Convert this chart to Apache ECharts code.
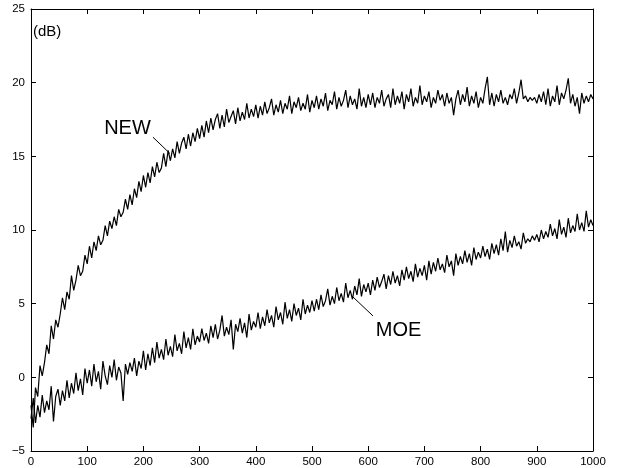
<!DOCTYPE html>
<html><head><meta charset="utf-8">
<script src="https://cdn.jsdelivr.net/npm/echarts@6/dist/echarts.min.js"></script>
<style>html,body{margin:0;padding:0;background:#fff}#c{width:619px;height:468px}</style>
</head><body><div id="c"></div>
<script>
// sample spacing along the x axis (values read every 4 samples)
const sampleStep = 4;

// NEW curve (dB), x = 0, 4, 8, ..., 1000
const newValues = [
-1.9,-3.4,-0.7,-1.3,0.8,0.1,1.0,2.2,1.6,3.5,2.6,3.9,3.4,4.3,5.4,4.6,5.8,5.3,6.9,5.9,6.6,7.6,6.9,7.2,8.3,7.7,
8.9,8.1,9.2,8.6,9.6,9.0,9.3,10.3,9.6,10.6,10.1,10.9,10.3,11.4,10.9,11.2,12.1,11.4,12.4,11.7,12.8,12.2,13.3,12.6,13.7,
12.9,13.9,13.2,14.3,13.6,14.6,13.9,14.2,15.2,14.3,15.4,14.7,15.5,14.9,16.0,15.2,15.9,16.3,15.5,16.5,15.7,16.6,16.0,16.9,16.2,
17.1,16.3,17.4,16.6,17.6,16.8,17.5,17.9,16.9,17.8,17.0,18.2,17.3,17.7,18.1,17.2,18.3,17.4,18.0,17.5,18.6,17.6,18.2,17.7,18.5,
17.6,18.4,17.8,18.7,17.9,18.3,18.9,17.8,18.5,18.0,18.8,17.9,18.6,18.2,19.1,17.9,18.7,18.3,19.0,18.1,18.6,18.2,19.2,18.0,18.8,
18.3,19.1,18.2,18.9,18.4,19.3,18.1,18.8,18.5,19.4,18.2,19.0,18.4,18.8,19.5,18.3,19.1,18.5,18.9,18.2,19.6,18.4,19.0,18.3,19.2,
18.5,19.3,18.3,19.0,18.6,19.5,18.4,18.9,19.2,18.3,19.6,18.5,19.1,18.6,19.4,18.2,19.2,18.7,19.6,18.4,19.0,18.6,19.8,18.5,19.1,
18.7,19.4,18.3,19.0,18.6,19.5,18.8,19.2,18.4,19.3,18.6,19.0,17.8,18.9,19.5,18.5,19.2,18.7,19.7,18.4,19.1,18.6,19.4,18.3,19.0,
18.6,19.6,20.4,18.5,19.3,18.4,19.2,18.7,19.5,18.6,19.0,18.5,19.2,18.9,19.6,18.6,19.3,20.2,18.9,19.1,18.7,19.0,18.8,19.0,18.6,
19.2,18.7,19.4,18.5,19.6,18.4,19.1,18.7,19.8,18.5,19.3,18.9,19.5,20.3,18.6,19.2,18.4,19.0,17.9,19.3,18.6,19.1,18.7,19.2,18.9
];

// MOE curve (dB), x = 0, 4, 8, ..., 1000
const moeValues = [
-2.8,-1.4,-3.1,-1.9,-2.7,-1.2,-2.4,-1.6,-2.2,-0.6,-3.0,-1.3,-0.8,-1.9,-0.9,-1.6,-0.2,-1.4,-0.4,-1.1,0.3,-0.9,-0.1,-1.2,0.6,-0.4,
0.5,-0.6,0.9,-0.3,0.4,-0.8,1.1,0.1,-0.5,0.8,0.0,1.2,-0.2,0.7,0.3,-1.6,0.9,0.2,1.0,0.4,1.3,0.1,1.1,0.6,1.8,
0.5,1.6,0.8,2.0,1.0,2.4,1.3,1.9,1.2,2.6,1.5,2.1,1.4,2.9,1.8,2.3,1.6,3.1,2.0,2.7,1.9,3.3,2.2,2.8,2.4,
3.3,2.5,3.0,2.3,3.5,2.7,3.6,2.6,3.2,4.2,2.8,3.4,2.9,3.9,1.9,3.6,3.1,4.0,3.0,3.7,2.7,4.3,3.2,3.8,3.4,
4.4,3.3,4.1,3.5,4.6,3.7,4.2,3.4,4.8,3.9,4.4,3.6,5.1,4.0,4.6,3.8,5.0,4.2,4.7,3.9,5.3,4.3,4.9,4.4,5.2,
4.5,5.3,4.6,5.6,4.8,5.2,6.0,4.9,5.5,5.0,6.1,5.2,5.7,5.1,6.4,5.4,5.9,5.3,6.2,5.6,6.7,5.5,6.3,5.8,6.4,
5.6,6.6,5.9,6.8,6.1,6.5,7.0,6.0,6.9,6.3,7.2,6.4,6.9,6.2,7.3,6.6,7.5,6.7,7.2,6.5,7.7,6.8,7.4,6.9,7.6,
6.6,7.9,7.0,7.8,7.2,8.1,7.3,7.7,7.1,8.3,7.5,7.9,6.9,8.4,7.6,8.2,7.7,8.6,7.8,8.4,7.6,8.8,8.0,8.5,8.1,
8.9,8.2,8.7,8.0,9.1,8.4,9.0,8.3,9.4,8.6,9.9,8.5,9.3,8.8,9.6,8.9,9.2,8.7,9.8,9.1,9.4,9.2,9.6,9.3,9.7,
9.2,10.0,9.4,9.9,9.5,10.4,9.6,10.1,9.4,10.7,9.7,10.2,9.5,10.8,9.8,10.3,9.9,11.1,10.0,10.5,9.9,11.3,10.2,10.7,10.3
];

const seriesNames = ['NEW', 'MOE'];

const FONT = 'Liberation Sans, Arial, Helvetica, sans-serif';
const toPairs = vals => vals.map((v, i) => [i * sampleStep, v]);

const chart = echarts.init(document.getElementById('c'), null, {renderer: 'canvas'});

const axisCommon = {
  axisLine: {show: true, onZero: false, lineStyle: {color: '#000', width: 1}},
  axisTick: {show: true, inside: true, length: 5, lineStyle: {color: '#000'}},
  splitLine: {show: false}
};

const tickFmt = v => (v < 0 ? '\u2212' + Math.abs(v) : String(v));

chart.setOption({
  animation: false,
  backgroundColor: '#fff',
  grid: {left: 31, right: 26, top: 9, bottom: 17, containLabel: false},
  xAxis: [
    Object.assign({type: 'value', min: 0, max: 1000, interval: 100, position: 'bottom',
      axisLabel: {color: '#000', fontSize: 11.5, fontFamily: FONT, margin: 5, formatter: tickFmt}}, axisCommon),
    Object.assign({type: 'value', min: 0, max: 1000, interval: 100, position: 'top',
      axisLabel: {show: false}}, axisCommon)
  ],
  yAxis: [
    Object.assign({type: 'value', min: -5, max: 25, interval: 5, position: 'left',
      axisLabel: {color: '#000', fontSize: 11.5, fontFamily: FONT, margin: 6, formatter: tickFmt}}, axisCommon),
    Object.assign({type: 'value', min: -5, max: 25, interval: 5, position: 'right',
      axisLabel: {show: false}}, axisCommon)
  ],
  graphic: [{
    type: 'text', left: 33, top: 24,
    style: {text: '(dB)', fill: '#000', font: '15px ' + FONT}
  }],
  series: [
    {
      name: seriesNames[0], type: 'line', data: toPairs(newValues), showSymbol: false,
      lineStyle: {color: '#000', width: 1.2}, sampling: false, z: 3,
      markLine: {
        silent: true, symbol: ['none', 'none'], label: {show: false},
        lineStyle: {color: '#000', width: 1, type: 'solid'},
        data: [[{coord: [217, 16.3]}, {coord: [247, 15.2]}]]
      },
      markPoint: {
        silent: true, symbol: 'circle', symbolSize: 1, itemStyle: {color: 'rgba(0,0,0,0)'},
        label: {show: true, position: 'inside', color: '#000', fontSize: 20, fontFamily: FONT, formatter: seriesNames[0]},
        data: [{coord: [171.7, 16.86]}]
      }
    },
    {
      name: seriesNames[1], type: 'line', data: toPairs(moeValues), showSymbol: false,
      lineStyle: {color: '#000', width: 1.2}, sampling: false, z: 3,
      markLine: {
        silent: true, symbol: ['none', 'none'], label: {show: false},
        lineStyle: {color: '#000', width: 1, type: 'solid'},
        data: [[{coord: [608.5, 4.17]}, {coord: [573, 5.45]}]]
      },
      markPoint: {
        silent: true, symbol: 'circle', symbolSize: 1, itemStyle: {color: 'rgba(0,0,0,0)'},
        label: {show: true, position: 'inside', color: '#000', fontSize: 20, fontFamily: FONT, formatter: seriesNames[1]},
        data: [{coord: [654, 3.18]}]
      }
    }
  ]
});
</script>
</body></html>
